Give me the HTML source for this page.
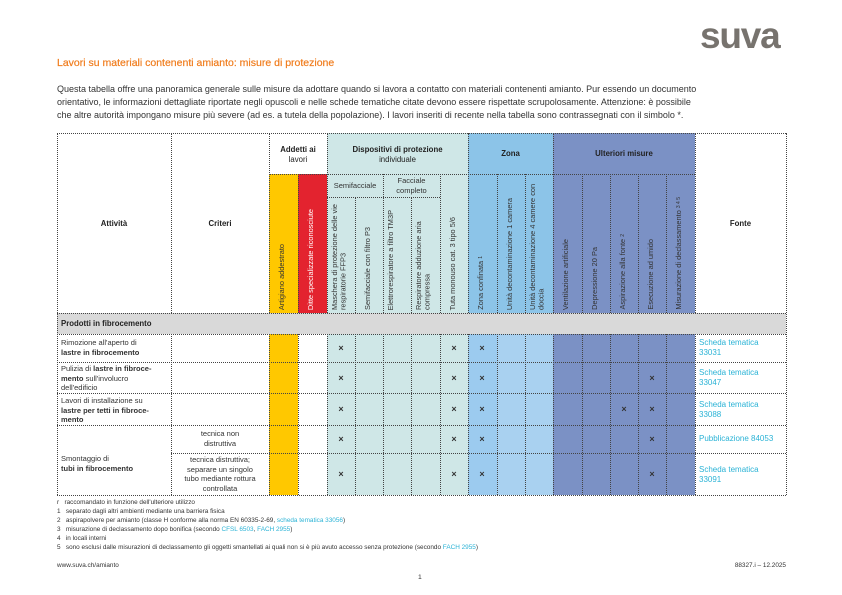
<!DOCTYPE html>
<html><head><meta charset="utf-8"><style>
*{margin:0;padding:0;box-sizing:border-box}
body{width:842px;height:595px;background:#fff;position:relative;overflow:hidden;font-family:"Liberation Sans",Arial,sans-serif;color:#333}
.a{position:absolute}
.h{position:absolute;border-top:1px dotted #444;height:0}
.v{position:absolute;border-left:1px dotted #444;width:0}
.t{position:absolute;font-size:7.5px;line-height:9.5px}
.vt{position:absolute;writing-mode:vertical-rl;transform:rotate(180deg);font-size:7.4px;line-height:8.5px;color:#333;bottom:0}
.hd{position:absolute;font-size:7.8px;font-weight:bold;text-align:center;line-height:10px;color:#222}
.x{position:absolute;font-size:9px;font-weight:bold;color:#333;width:12px;text-align:center}
.lnk{color:#2bb3d6}
.fn{position:absolute;left:57px;font-size:6.4px;color:#333;white-space:nowrap}
</style></head><body>
<div class="a" style="left:700px;top:17px;font-size:37px;font-weight:bold;color:#77736e;letter-spacing:-1.2px;line-height:38px">suva</div>
<div class="a" style="left:57px;top:57px;font-size:10.5px;color:#f07d1e;-webkit-text-stroke:0.2px #f07d1e">Lavori su materiali contenenti amianto: misure di protezione</div>
<div class="a" style="left:57px;top:83px;font-size:9px;line-height:13px;color:#333;width:760px;white-space:nowrap">Questa tabella offre una panoramica generale sulle misure da adottare quando si lavora a contatto con materiali contenenti amianto. Pur essendo un documento<br>orientativo, le informazioni dettagliate riportate negli opuscoli e nelle schede tematiche citate devono essere rispettate scrupolosamente. Attenzione: è possibile<br>che altre autorità impongano misure più severe (ad es. a tutela della popolazione). I lavori inseriti di recente nella tabella sono contrassegnati con il simbolo *.</div>

<!-- backgrounds -->
<div class="a" style="left:269px;top:174px;width:29px;height:321px;background:#ffc800"></div>
<div class="a" style="left:298px;top:174px;width:29px;height:139px;background:#e3232f"></div>
<div class="a" style="left:327px;top:133px;width:141px;height:362px;background:#cfe7e7"></div>
<div class="a" style="left:468px;top:133px;width:85px;height:180px;background:#8cc4e8"></div>
<div class="a" style="left:468px;top:334px;width:29px;height:161px;background:#9ccbef"></div>
<div class="a" style="left:497px;top:334px;width:56px;height:161px;background:#a9d1f0"></div>
<div class="a" style="left:553px;top:133px;width:142px;height:362px;background:#7b91c5"></div>
<div class="a" style="left:57px;top:313px;width:729px;height:21px;background:#d9d9d9"></div>

<!-- horizontal lines -->
<div class="h" style="left:57px;top:133px;width:729px"></div>
<div class="h" style="left:269px;top:174px;width:426px"></div>
<div class="h" style="left:327px;top:197px;width:113px"></div>
<div class="h" style="left:57px;top:313px;width:729px"></div>
<div class="h" style="left:57px;top:334px;width:729px"></div>
<div class="h" style="left:57px;top:362px;width:729px"></div>
<div class="h" style="left:57px;top:393px;width:729px"></div>
<div class="h" style="left:57px;top:425px;width:729px"></div>
<div class="h" style="left:171px;top:453px;width:615px"></div>
<div class="h" style="left:57px;top:495px;width:729px"></div>
<!-- verticals -->
<div class="v" style="left:57px;top:133px;height:362px"></div>
<div class="v" style="left:786px;top:133px;height:362px"></div>
<div class="v" style="left:171px;top:133px;height:180px"></div><div class="v" style="left:171px;top:334px;height:161px"></div>
<div class="v" style="left:269px;top:133px;height:180px"></div><div class="v" style="left:269px;top:334px;height:161px"></div>
<div class="v" style="left:298px;top:174px;height:139px"></div><div class="v" style="left:298px;top:334px;height:161px"></div>
<div class="v" style="left:327px;top:133px;height:180px"></div><div class="v" style="left:327px;top:334px;height:161px"></div>
<div class="v" style="left:355px;top:197px;height:116px"></div><div class="v" style="left:355px;top:334px;height:161px"></div>
<div class="v" style="left:383px;top:174px;height:139px"></div><div class="v" style="left:383px;top:334px;height:161px"></div>
<div class="v" style="left:411px;top:197px;height:116px"></div><div class="v" style="left:411px;top:334px;height:161px"></div>
<div class="v" style="left:440px;top:174px;height:139px"></div><div class="v" style="left:440px;top:334px;height:161px"></div>
<div class="v" style="left:468px;top:133px;height:180px"></div><div class="v" style="left:468px;top:334px;height:161px"></div>
<div class="v" style="left:497px;top:174px;height:139px"></div><div class="v" style="left:497px;top:334px;height:161px"></div>
<div class="v" style="left:525px;top:174px;height:139px"></div><div class="v" style="left:525px;top:334px;height:161px"></div>
<div class="v" style="left:553px;top:133px;height:180px"></div><div class="v" style="left:553px;top:334px;height:161px"></div>
<div class="v" style="left:582px;top:174px;height:139px"></div><div class="v" style="left:582px;top:334px;height:161px"></div>
<div class="v" style="left:610px;top:174px;height:139px"></div><div class="v" style="left:610px;top:334px;height:161px"></div>
<div class="v" style="left:638px;top:174px;height:139px"></div><div class="v" style="left:638px;top:334px;height:161px"></div>
<div class="v" style="left:666px;top:174px;height:139px"></div><div class="v" style="left:666px;top:334px;height:161px"></div>
<div class="v" style="left:695px;top:133px;height:180px"></div><div class="v" style="left:695px;top:334px;height:161px"></div>

<!-- header text -->
<div class="hd" style="left:57px;top:219px;width:114px">Attività</div>
<div class="hd" style="left:171px;top:219px;width:98px">Criteri</div>
<div class="hd" style="left:695px;top:219px;width:91px">Fonte</div>
<div class="hd" style="left:269px;top:145px;width:58px">Addetti ai<br><span style="font-weight:normal">lavori</span></div>
<div class="hd" style="left:327px;top:145px;width:141px">Dispositivi di protezione<br><span style="font-weight:normal">individuale</span></div>
<div class="hd" style="left:468px;top:149px;width:85px">Zona</div>
<div class="hd" style="left:553px;top:149px;width:142px">Ulteriori misure</div>
<div class="t" style="left:327px;top:181px;width:56px;text-align:center">Semifacciale</div>
<div class="t" style="left:383px;top:176px;width:57px;text-align:center">Facciale<br>completo</div>

<div class="a" style="left:269px;top:174px;width:29px;height:136px"><div class="vt" style="left:9px">Artigiano addestrato</div></div>
<div class="a" style="left:298px;top:174px;width:29px;height:136px"><div class="vt" style="left:9px;color:#fff">Ditte specializzate riconosciute</div></div>
<div class="a" style="left:327px;top:197px;width:28px;height:113px"><div class="vt" style="left:4px">Maschera di protezione delle vie respiratorie FFP3</div></div>
<div class="a" style="left:355px;top:197px;width:28px;height:113px"><div class="vt" style="left:9px">Semifacciale con filtro P3</div></div>
<div class="a" style="left:383px;top:197px;width:28px;height:113px"><div class="vt" style="left:4px">Elettrorespiratore a filtro TM3P</div></div>
<div class="a" style="left:411px;top:197px;width:29px;height:113px"><div class="vt" style="left:4px">Respiratore adduzione aria compressa</div></div>
<div class="a" style="left:440px;top:174px;width:28px;height:136px"><div class="vt" style="left:9px">Tuta monouso cat. 3 tipo 5/6</div></div>
<div class="a" style="left:468px;top:174px;width:29px;height:136px"><div class="vt" style="left:9px">Zona confinata <span style="font-size:5px">1</span></div></div>
<div class="a" style="left:497px;top:174px;width:28px;height:136px"><div class="vt" style="left:9px">Unità decontaminazione 1 camera</div></div>
<div class="a" style="left:525px;top:174px;width:28px;height:136px"><div class="vt" style="left:4px">Unità decontaminazione 4 camere con doccia</div></div>
<div class="a" style="left:553px;top:174px;width:29px;height:136px"><div class="vt" style="left:9px">Ventilazione artificiale</div></div>
<div class="a" style="left:582px;top:174px;width:28px;height:136px"><div class="vt" style="left:9px">Depressione 20 Pa</div></div>
<div class="a" style="left:610px;top:174px;width:28px;height:136px"><div class="vt" style="left:9px">Aspirazione alla fonte <span style="font-size:5px">2</span></div></div>
<div class="a" style="left:638px;top:174px;width:28px;height:136px"><div class="vt" style="left:9px">Esecuzione ad umido</div></div>
<div class="a" style="left:666px;top:174px;width:29px;height:136px"><div class="vt" style="left:9px">Misurazione di declassamento <span style="font-size:5px">3 4 5</span></div></div>

<div class="hd" style="left:61px;top:319px;text-align:left">Prodotti in fibrocemento</div>

<!-- rows -->
<div class="t" style="left:61px;top:338px">Rimozione all'aperto di<br><b>lastre in fibrocemento</b></div>
<div class="t" style="left:61px;top:364px">Pulizia di <b>lastre in fibroce-<br>mento</b> sull'involucro<br>dell'edificio</div>
<div class="t" style="left:61px;top:396px">Lavori di installazione su<br><b>lastre per tetti in fibroce-<br>mento</b></div>
<div class="t" style="left:61px;top:454px">Smontaggio di<br><b>tubi in fibrocemento</b></div>
<div class="t" style="left:171px;top:429px;width:98px;text-align:center">tecnica non<br>distruttiva</div>
<div class="t" style="left:171px;top:455px;width:98px;text-align:center">tecnica distruttiva;<br>separare un singolo<br>tubo mediante rottura<br>controllata</div>

<div class="t lnk" style="left:699px;top:338px;font-size:8px">Scheda tematica<br>33031</div>
<div class="t lnk" style="left:699px;top:368px;font-size:8px">Scheda tematica<br>33047</div>
<div class="t lnk" style="left:699px;top:400px;font-size:8px">Scheda tematica<br>33088</div>
<div class="t lnk" style="left:699px;top:434px;font-size:8px">Pubblicazione 84053</div>
<div class="t lnk" style="left:699px;top:465px;font-size:8px">Scheda tematica<br>33091</div>

<!-- x marks -->
<div class="x" style="left:335px;top:343px">×</div><div class="x" style="left:448px;top:343px">×</div><div class="x" style="left:476px;top:343px">×</div>
<div class="x" style="left:335px;top:373px">×</div><div class="x" style="left:448px;top:373px">×</div><div class="x" style="left:476px;top:373px">×</div><div class="x" style="left:646px;top:373px">×</div>
<div class="x" style="left:335px;top:404px">×</div><div class="x" style="left:448px;top:404px">×</div><div class="x" style="left:476px;top:404px">×</div><div class="x" style="left:618px;top:404px">×</div><div class="x" style="left:646px;top:404px">×</div>
<div class="x" style="left:335px;top:434px">×</div><div class="x" style="left:448px;top:434px">×</div><div class="x" style="left:476px;top:434px">×</div><div class="x" style="left:646px;top:434px">×</div>
<div class="x" style="left:335px;top:469px">×</div><div class="x" style="left:448px;top:469px">×</div><div class="x" style="left:476px;top:469px">×</div><div class="x" style="left:646px;top:469px">×</div>

<!-- footnotes -->
<div class="fn" style="top:499px">r&nbsp;&nbsp;&nbsp;raccomandato in funzione dell'ulteriore utilizzo</div>
<div class="fn" style="top:508px">1&nbsp;&nbsp;&nbsp;separato dagli altri ambienti mediante una barriera fisica</div>
<div class="fn" style="top:517px">2&nbsp;&nbsp;&nbsp;aspirapolvere per amianto (classe H conforme alla norma EN 60335-2-69, <span class="lnk">scheda tematica 33056</span>)</div>
<div class="fn" style="top:526px">3&nbsp;&nbsp;&nbsp;misurazione di declassamento dopo bonifica (secondo <span class="lnk">CFSL 6503</span>, <span class="lnk">FACH 2955</span>)</div>
<div class="fn" style="top:535px">4&nbsp;&nbsp;&nbsp;in locali interni</div>
<div class="fn" style="top:544px">5&nbsp;&nbsp;&nbsp;sono esclusi dalle misurazioni di declassamento gli oggetti smantellati ai quali non si è più avuto accesso senza protezione (secondo <span class="lnk">FACH 2955</span>)</div>
<div class="fn" style="top:562px">www.suva.ch/amianto</div>
<div class="a" style="left:727px;top:562px;width:59px;text-align:right;font-size:6.4px">88327.i – 12.2025</div>
<div class="a" style="left:418px;top:574px;font-size:6.8px">1</div>
</body></html>
